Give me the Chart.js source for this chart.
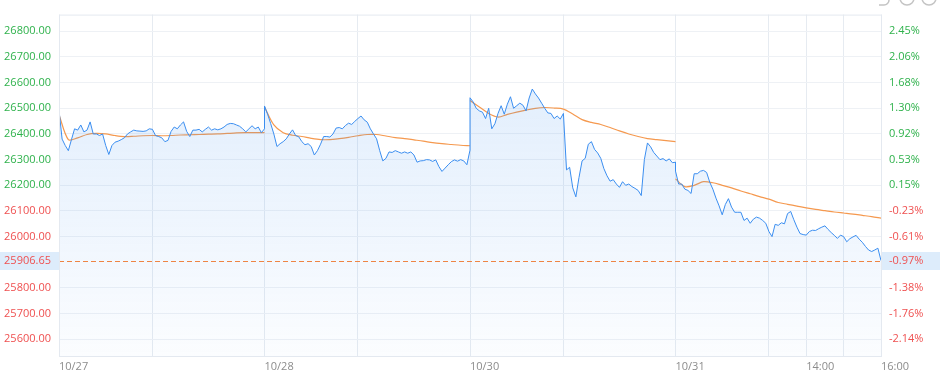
<!DOCTYPE html>
<html>
<head>
<meta charset="utf-8">
<script src="https://cdn.jsdelivr.net/npm/chart.js@4/dist/chart.umd.min.js"></script>
<style>
  html, body { margin: 0; padding: 0; background: #fff; }
  #wrap { width: 940px; height: 381px; position: relative; }
</style>
</head>
<body>
<div id="wrap"><canvas id="trend_chart"></canvas></div>
<script>
// 5-minute prices per session (9:30-12:00, 13:00-16:00 = 330 minutes)
var day1Price = [
    26493, 26380, 26355, 26335, 26378, 26420, 26415, 26435, 26408, 26415,
    26447, 26400, 26400, 26394, 26400, 26355, 26320, 26355, 26368, 26372,
    26378, 26385, 26400, 26408, 26415, 26412, 26411, 26410, 26412, 26420,
    26418, 26394, 26390, 26385, 26370, 26375, 26410, 26427, 26420, 26435,
    26447, 26410, 26390, 26415, 26415, 26418, 26408, 26418, 26427, 26415,
    26420, 26416, 26420, 26427, 26437, 26441, 26440, 26435, 26430, 26420,
    26408, 26420, 26432, 26420, 26427, 26405, 26420
];
var day2Price = [
    26509, 26477, 26440, 26400, 26351, 26362, 26370, 26381, 26400, 26416,
    26394, 26389, 26370, 26358, 26362, 26351, 26318, 26335, 26360, 26390,
    26390, 26388, 26400, 26423, 26425, 26420, 26433, 26442, 26437, 26449,
    26460, 26470, 26455, 26446, 26420, 26400, 26381, 26335, 26295, 26305,
    26330, 26328, 26335, 26330, 26325, 26330, 26325, 26330, 26318, 26290,
    26295, 26296, 26300, 26299, 26293, 26299, 26273, 26254, 26267, 26280,
    26292, 26299, 26294, 26300, 26295, 26280, 26337
];
var day3Price = [
    26541, 26525, 26500, 26490, 26485, 26460, 26500, 26420, 26440, 26480,
    26510, 26477, 26516, 26545, 26500, 26510, 26520, 26512, 26490, 26540,
    26575, 26556, 26540, 26520, 26500, 26482, 26480, 26460, 26470, 26458,
    26480, 26260, 26270, 26190, 26155, 26230, 26295, 26305, 26360, 26370,
    26340, 26326, 26305, 26265, 26237, 26216, 26222, 26205, 26192, 26214,
    26200, 26205, 26195, 26188, 26180, 26160, 26300, 26365, 26350, 26328,
    26314, 26300, 26304, 26295, 26303, 26288, 26290
];
var day4Price = [
    26255, 26205, 26205, 26185, 26180, 26168, 26245, 26245, 26255, 26258,
    26250, 26212, 26185, 26150, 26120, 26085, 26125, 26148, 26115, 26095,
    26095, 26095, 26063, 26072, 26052, 26068, 26076, 26072, 26063, 26052,
    26020, 26000, 26048, 26044, 26054, 26050, 26090, 26098, 26066, 26037,
    26012, 26008, 26006, 26020, 26025, 26024, 26031, 26037, 26042, 26028,
    26016, 26005, 25993, 26006, 26000, 25980, 25992, 25999, 26005, 25990,
    25978, 25962, 25948, 25942, 25948, 25955, 25906.65
];

// 15-minute average price per session
var day1Avg = [26475, 26378, 26385, 26398, 26402, 26400, 26394, 26390, 26391, 26393, 26394, 26393,
    26394, 26396, 26397, 26398, 26399, 26400, 26402, 26404, 26405, 26405, 26405];
var day2Avg = [26505, 26435, 26405, 26395, 26390, 26383, 26378, 26378, 26382, 26387, 26393, 26398,
    26398, 26392, 26386, 26382, 26377, 26372, 26366, 26362, 26359, 26356, 26354];
var day3Avg = [26530, 26505, 26480, 26466, 26476, 26485, 26493, 26500, 26503, 26501, 26497, 26478,
    26456, 26445, 26437, 26425, 26412, 26400, 26390, 26382, 26378, 26374, 26370];
var day4Avg = [26225, 26195, 26200, 26214, 26210, 26200, 26190, 26178, 26167, 26156, 26146, 26133,
    26126, 26119, 26112, 26106, 26101, 26096, 26092, 26088, 26083, 26078, 26072];

var lastPrice = 25906.65;
var priceTicks = [26800, 26700, 26600, 26500, 26400, 26300, 26200, 26100, 26000, 25906.65, 25800, 25700, 25600];
var pctLabels = ["2.45%", "2.06%", "1.68%", "1.30%", "0.92%", "0.53%", "0.15%", "-0.23%", "-0.61%", "-0.97%", "-1.38%", "-1.76%", "-2.14%"];
var timeTicks = [0, 150, 330, 480, 660, 810, 990, 1140, 1200, 1260, 1320];
var timeLabels = { 0: "10/27", 330: "10/28", 660: "10/30", 990: "10/31", 1200: "14:00", 1320: "16:00" };

var SESSION = 330;
var GREEN = "#2fb24c", RED = "#ef5050";

var priceData = [];
[day1Price, day2Price, day3Price, day4Price].forEach(function (arr, d) {
    arr.forEach(function (v, k) { priceData.push({ x: d * SESSION + k * 5, y: v }); });
});
var avgData = [];
[day1Avg, day2Avg, day3Avg, day4Avg].forEach(function (arr, d) {
    if (d > 0) avgData.push({ x: d * SESSION, y: null });
    arr.forEach(function (v, k) { avgData.push({ x: d * SESSION + k * 15, y: v }); });
});

function tickColor(ctx) {
    var lbl = pctLabels[ctx.index] || "";
    return lbl.charAt(0) === "-" ? RED : GREEN;
}

var decor = {
    id: "decor",
    beforeDraw: function (chart) {
        var ctx = chart.ctx, a = chart.chartArea;
        var y = Math.round(chart.scales.y.getPixelForValue(lastPrice));
        ctx.save();
        ctx.fillStyle = "#ddecfb";
        ctx.fillRect(0, y - 9, a.left, 18);
        ctx.fillRect(a.right + 1, y - 9, chart.width - a.right - 1, 18);
        ctx.restore();
    },
    afterDatasetsDraw: function (chart) {
        var ctx = chart.ctx, a = chart.chartArea;
        var y = Math.round(chart.scales.y.getPixelForValue(lastPrice)) + 0.5;
        ctx.save();
        ctx.strokeStyle = "#ee8544";
        ctx.lineWidth = 1;
        ctx.setLineDash([5, 3]);
        ctx.beginPath();
        ctx.moveTo(a.left, y);
        ctx.lineTo(a.right, y);
        ctx.stroke();
        ctx.setLineDash([]);
        ctx.strokeStyle = "#e4e9f0";
        ctx.strokeRect(a.left + 0.5, a.top + 0.5, a.right - a.left, a.bottom - a.top);
        // toolbar icons cut off at the top edge
        ctx.strokeStyle = "#c4c4c4";
        ctx.lineWidth = 1.5;
        ctx.beginPath();
        ctx.moveTo(879, 5);
        ctx.lineTo(884, 5);
        ctx.arc(884, 0, 5, Math.PI / 2, 0, true);
        ctx.stroke();
        [907, 929].forEach(function (cx) {
            ctx.beginPath();
            ctx.arc(cx, -2, 7, 0, Math.PI * 2);
            ctx.stroke();
        });
        ctx.restore();
    }
};

Chart.defaults.font.family = "'Open Sans', sans-serif";
Chart.defaults.font.size = 11;

new Chart(document.getElementById("trend_chart").getContext("2d"), {
    type: "line",
    data: {
        datasets: [
            {
                label: "Price",
                data: priceData,
                borderColor: "#3b8ef0",
                borderWidth: 1,
                pointRadius: 0,
                tension: 0,
                fill: "start",
                backgroundColor: function (ctx) {
                    var a = ctx.chart.chartArea;
                    if (!a) return "rgba(59,142,240,0.12)";
                    var g = ctx.chart.ctx.createLinearGradient(0, a.top, 0, a.bottom);
                    g.addColorStop(0, "rgba(59,142,240,0.18)");
                    g.addColorStop(1, "rgba(59,142,240,0.02)");
                    return g;
                },
            },
            {
                label: "Average",
                data: avgData,
                borderColor: "#f5994f",
                borderWidth: 1.2,
                pointRadius: 0,
                tension: 0.3,
                fill: false,
                spanGaps: false,
            },
        ],
    },
    options: {
        responsive: true,
        maintainAspectRatio: false,
        animation: false,
        layout: { padding: { top: 9, left: 0, right: 0, bottom: 0 } },
        plugins: { legend: { display: false }, tooltip: { enabled: false } },
        scales: {
            x: {
                type: "linear",
                min: 0,
                max: 1320,
                afterBuildTicks: function (s) { s.ticks = timeTicks.map(function (v) { return { value: v }; }); },
                afterFit: function (s) { s.height = 25; },
                grid: { color: "#e6ebf1", drawTicks: false },
                border: { display: false },
                ticks: {
                    autoSkip: false,
                    maxRotation: 0,
                    align: "start",
                    padding: 4,
                    color: "#8c8c8c",
                    callback: function (v) { return timeLabels[v] || ""; },
                },
            },
            y: {
                position: "left",
                min: 25535,
                max: 26865,
                afterBuildTicks: function (s) { s.ticks = priceTicks.map(function (v) { return { value: v }; }); },
                afterFit: function (s) { s.width = 59; },
                grid: {
                    drawTicks: false,
                    color: function (ctx) { return ctx.tick && ctx.tick.value === lastPrice ? "rgba(0,0,0,0)" : "#eef1f5"; },
                },
                border: { display: false },
                ticks: {
                    padding: 8,
                    color: tickColor,
                    callback: function (v) { return v.toFixed(2); },
                },
            },
            y2: {
                position: "right",
                min: 25535,
                max: 26865,
                afterBuildTicks: function (s) { s.ticks = priceTicks.map(function (v) { return { value: v }; }); },
                afterFit: function (s) { s.width = 59; },
                grid: { display: false, drawTicks: false },
                border: { display: false },
                ticks: {
                    padding: 8,
                    color: tickColor,
                    callback: function (v, i) { return pctLabels[i]; },
                },
            },
        },
    },
    plugins: [decor],
});
</script>
</body>
</html>
